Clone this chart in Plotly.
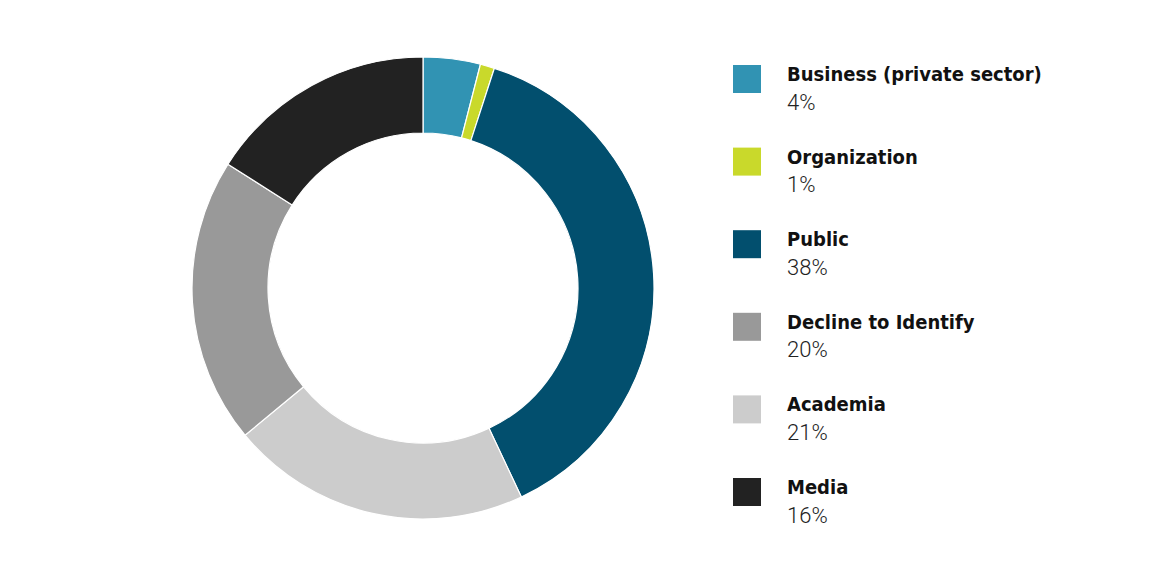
import plotly.graph_objects as go

# Data
pie_labels = ["Business (private sector)", "Organization", "Public", "Academia", "Decline to Identify", "Media"]
pie_values = [4, 1, 38, 21, 20, 16]
pie_colors = ["#3193b3", "#c9d92b", "#024f6e", "#cccccc", "#999999", "#222222"]

legend_labels = ["Business (private sector)", "Organization", "Public", "Decline to Identify", "Academia", "Media"]
legend_values = ["4%", "1%", "38%", "20%", "21%", "16%"]
legend_colors = ["#3193b3", "#c9d92b", "#024f6e", "#999999", "#cccccc", "#222222"]

W, H = 1170, 573
OFF = 8  # page body margin
cx, cy, r = 423 - OFF, 288 - OFF, 231

fig = go.Figure(go.Pie(
    labels=pie_labels, values=pie_values, sort=False, direction="clockwise", rotation=0,
    hole=155 / 231, marker=dict(colors=pie_colors, line=dict(color="white", width=1.2)),
    textinfo="none", hoverinfo="label+percent", showlegend=False,
    domain=dict(x=[(cx - r) / W, (cx + r) / W], y=[(H - cy - r) / H, (H - cy + r) / H]),
))

font_label = "DejaVu Sans Condensed, Liberation Sans Narrow, sans-serif"
font_pct = "Roboto, sans-serif"
shapes, annotations = [], []
y0, pitch = 65 - OFF, 82.6
xs, xt = 733 - OFF, 785 - OFF
for i, (lab, val, col) in enumerate(zip(legend_labels, legend_values, legend_colors)):
    top = y0 + i * pitch
    shapes.append(dict(type="rect", xref="paper", yref="paper",
                       x0=xs / W, x1=(xs + 28) / W, y0=1 - (top + 28) / H, y1=1 - top / H,
                       fillcolor=col, line=dict(width=0)))
    annotations.append(dict(xref="paper", yref="paper", x=xt / W, y=1 - (top + 9) / H,
                            xanchor="left", yanchor="middle", showarrow=False,
                            text="<b>" + lab + "</b>",
                            font=dict(family=font_label, size=20, color="#111111")))
    annotations.append(dict(xref="paper", yref="paper", x=xt / W, y=1 - (top + 37) / H,
                            xanchor="left", yanchor="middle", showarrow=False,
                            text=val,
                            font=dict(family=font_pct, size=22, weight=300, color="#222222")))

fig.update_layout(width=W, height=H, margin=dict(l=0, r=0, t=0, b=0),
                  paper_bgcolor="white", plot_bgcolor="white",
                  shapes=shapes, annotations=annotations)
fig.write_html("out.html")
